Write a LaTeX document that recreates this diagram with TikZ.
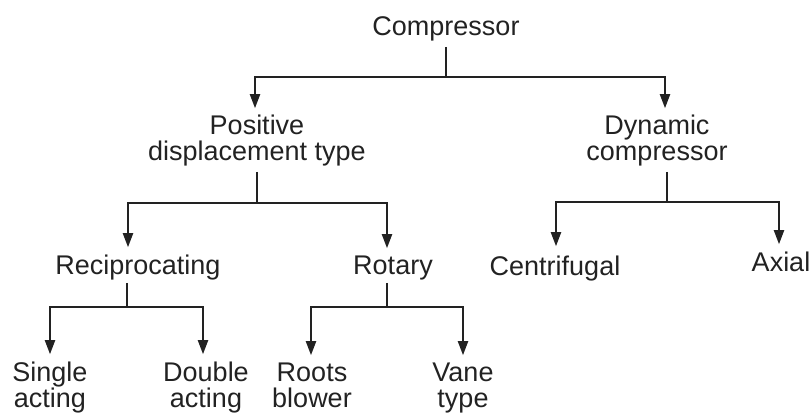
\documentclass[tikz,border=0pt]{standalone}
\usepackage{fontspec}
\setmainfont{Liberation Sans}
\usetikzlibrary{arrows.meta}
\definecolor{ink}{HTML}{222222}
\begin{document}
\begin{tikzpicture}[x=1pt,y=-1pt,
  lbl/.style={anchor=base,inner sep=0pt,align=center,text=ink,
    font=\fontsize{27}{26}\selectfont},
  wire/.style={draw=ink,line width=2pt},
  arr/.style={wire,-{Triangle[length=14pt,width=10pt]}}]
\useasboundingbox (0,0) rectangle (812,414);
% nodes (base = baseline of last line)
\node[lbl] (comp) at (446,36) {Compressor};
\node[lbl] (pos) at (257,161) {Positive\\displacement type};
\node[lbl] (dyn) at (657,161) {Dynamic\\compressor};
\node[lbl] (rec) at (138,275) {Reciprocating};
\node[lbl] (rot) at (393,275) {Rotary};
\node[lbl] (cen) at (555,276) {Centrifugal};
\node[lbl] (axi) at (781,272) {Axial};
\node[lbl] (sin) at (50,407) {Single\\acting};
\node[lbl] (dou) at (206,407) {Double\\acting};
\node[lbl] (roo) at (312,407) {Roots\\blower};
\node[lbl] (van) at (463,407) {Vane\\type};
% junctions
\coordinate (j1) at (446,77);
\coordinate (j2) at (257,203);
\coordinate (j3) at (667,202);
\coordinate (j4) at (127,307);
\coordinate (j5) at (387,307);
% connectors
\draw[wire] (j1 |- comp.south) ++(0,5) -- (j1);
\draw[arr] (j1) -| ([xshift=-2pt,yshift=7pt]pos.north);
\draw[arr] (j1) -| ([xshift=8pt,yshift=7pt]dyn.north);
\draw[wire] (j2 |- pos.south) ++(0,5) -- (j2);
\draw[arr] (j2) -| ([xshift=-10pt,yshift=8pt]rec.north);
\draw[arr] (j2) -| ([xshift=-6pt,yshift=8pt]rot.north);
\draw[wire] (j3 |- dyn.south) ++(0,5) -- (j3);
\draw[arr] (j3) -| ([xshift=1pt,yshift=10pt]cen.north);
\draw[arr] (j3) -| ([xshift=-2pt,yshift=8pt]axi.north);
\draw[wire] (j4 |- rec.south) ++(0,2) -- (j4);
\draw[arr] (j4) -| ([yshift=7pt]sin.north);
\draw[arr] (j4) -| ([xshift=-3pt,yshift=7pt]dou.north);
\draw[wire] (j5 |- rot.south) ++(0,2) -- (j5);
\draw[arr] (j5) -| ([xshift=-1pt,yshift=7pt]roo.north);
\draw[arr] (j5) -| ([yshift=7pt]van.north);
\end{tikzpicture}
\end{document}
